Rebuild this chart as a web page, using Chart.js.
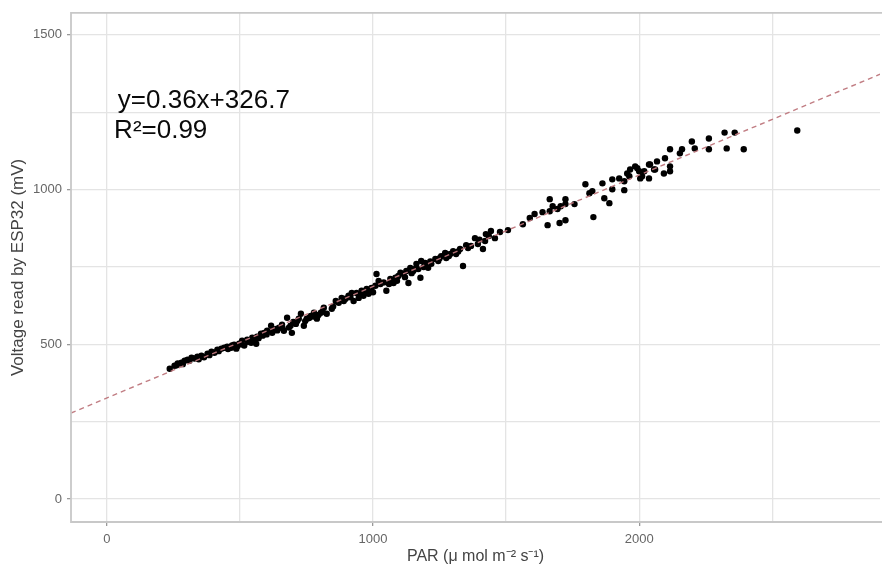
<!DOCTYPE html>
<html><head><meta charset="utf-8">
<script src="https://cdn.jsdelivr.net/npm/chart.js@4/dist/chart.umd.min.js"></script>
<style>html,body{margin:0;padding:0;background:#fff}#wrap{width:884px;height:574px;position:relative}</style>
</head><body><div id="wrap"><canvas id="c" width="884" height="574"></canvas></div>
<script>
// PAR values (µmol m-2 s-1)
const parValues = [
 236,254,266,280,292,303,318,329,340,355,378,393,404,415,430,441,452,467,478,486,497,508,516,527,542,546,561,564,579,591,602,617,621,636,647,658,665,677,684,695,710,721,729,740,751,766,778,789,804,815,826,845,
 262,285,310,345,365,385,420,455,470,490,505,530,555,570,585,600,625,640,660,690,700,715,745,760,775,795,810,
 860,871,882,897,908,920,927,938,946,957,964,976,983,994,1009,1013,1021,1028,1050,1065,1077,1084,1095,1103,1114,1125,1133,1140,1151,1163,1170,1178,1181,1196,1207,1219,1234,1245,1256,1271,1275,1290,1301,1312,1327,1338,1357,1368,1383,1394,1413,1421,1424,1443,1458,
 850,890,915,950,970,990,1000,1040,1060,1090,1120,1145,1160,1190,1215,1250,1285,1320,1350,1400,1435,
 1477,1507,1563,1589,1607,1637,1664,1664,1675,1693,1705,1723,1723,1757,1656,1701,1723,1798,1813,1824,1828,1862,1869,1888,1899,1899,1925,1944,1944,1955,1963,1966,1985,2000,2011,2041,2056,
 1993,2004,2037,2019,2037,2067,2060,2093,2116,2116,2097,2116,2153,2161,2198,2209,2262,2262,2321,2359,2329,2393,2594
];
// Voltage read by ESP32 (mV)
const voltageValues = [
 421,431,438,441,447,450,457,454,460,463,470,476,473,483,486,489,492,489,499,486,502,512,496,515,505,521,502,525,534,537,544,560,537,550,554,563,544,586,554,537,566,583,599,560,583,592,602,583,602,618,599,615,
 432,436,447,452,458,465,478,485,496,494,500,508,514,520,528,532,545,545,552,560,572,575,575,585,590,595,605,
 640,634,650,647,657,666,640,666,650,673,657,679,663,682,689,727,705,695,673,711,698,715,721,731,727,737,698,747,737,760,743,715,769,763,747,760,776,769,785,795,779,792,801,792,808,753,811,818,843,824,808,834,856,866,843,
 622,640,652,660,668,675,668,700,695,705,717,730,745,750,768,778,785,800,820,838,850,
 863,869,888,908,921,927,969,930,946,937,946,969,953,953,885,892,901,1017,988,995,911,1020,972,956,1033,1001,1036,1027,998,1052,1043,1065,1075,1059,1043,1081,1065,
 1069,1036,1036,1059,1081,1091,1065,1052,1059,1075,1101,1130,1117,1130,1155,1133,1165,1130,1184,1184,1133,1130,1191
];
const fitSlope = 0.36;
const fitIntercept = 326.7;
const xGridValues = [0,500,1000,1500,2000,2500];
const xTickLabels = [0,1000,2000];
const yGridValues = [0,250,500,750,1000,1250,1500];
const yTickLabels = [0,500,1000,1500];
const xLimits = [-135, 2905];
const yLimits = [-74, 1571];
const equationLines = ['y=0.36x+326.7', 'R\u00B2=0.99'];

const points = parValues.map((x,i)=>({x:x, y:voltageValues[i]}));
const fitLine = xLimits.map(x=>({x:x, y:fitSlope*x+fitIntercept}));

const framePlugin = {
  id:'frame',
  afterDatasetsDraw(chart){
    const {ctx, chartArea:a} = chart;
    ctx.save();
    ctx.strokeStyle = '#c8c8c8';
    ctx.lineWidth = 1.8;
    ctx.beginPath();
    ctx.moveTo(a.right+2, a.top); ctx.lineTo(a.left, a.top); ctx.lineTo(a.left, a.bottom); ctx.lineTo(a.right+2, a.bottom);
    ctx.stroke();
    // equation text
    const xs = chart.scales.x, ys = chart.scales.y;
    ctx.fillStyle = '#0a0a0a';
    ctx.font = '26px "Liberation Sans", Arial, sans-serif';
    ctx.textBaseline = 'alphabetic';
    ctx.textAlign = 'left';
    ctx.fillText(equationLines[0], xs.getPixelForValue(41), ys.getPixelForValue(1262));
    ctx.fillText(equationLines[1], xs.getPixelForValue(27), ys.getPixelForValue(1166));
    ctx.restore();
  }
};

const gridColor = '#e4e4e4';
new Chart(document.getElementById('c'), {
  type:'scatter',
  data:{datasets:[
    {type:'line', data:fitLine, borderColor:'rgba(190,118,124,0.95)', borderWidth:1.4, borderDash:[5,4], pointRadius:0, fill:false, tension:0},
    {data:points, backgroundColor:'#000', borderColor:'#000', pointRadius:3.2, pointBorderWidth:0}
  ]},
  options:{
    responsive:false, animation:false, devicePixelRatio:1,
    layout:{padding:{top:11,right:0,bottom:0,left:0}},
    plugins:{legend:{display:false}, tooltip:{enabled:false}},
    scales:{
      x:{type:'linear', min:xLimits[0], max:xLimits[1],
        afterBuildTicks:s=>{s.ticks = xGridValues.map(v=>({value:v}));},
        afterFit:s=>{s.height = 52;},
        border:{display:false},
        grid:{color:gridColor, lineWidth:1.3, tickLength:4, tickColor:c=>xTickLabels.includes(c.tick.value)?'#999':'rgba(0,0,0,0)'},
        ticks:{autoSkip:false, maxRotation:0, padding:6, color:'#666', font:{family:'"Liberation Sans", Arial, sans-serif', size:13},
          callback:v=>xTickLabels.includes(v)?String(v):''},
        title:{display:true, text:'PAR (\u03BC mol m\u207B\u00B2 s\u207B\u00B9)', color:'#444', font:{family:'"Liberation Sans", Arial, sans-serif', size:16}, padding:{top:0,bottom:8}}
      },
      y:{type:'linear', min:yLimits[0], max:yLimits[1],
        afterBuildTicks:s=>{s.ticks = yGridValues.map(v=>({value:v}));},
        afterFit:s=>{s.width = 71;},
        border:{display:false},
        grid:{color:gridColor, lineWidth:1.3, tickLength:4, tickColor:c=>yTickLabels.includes(c.tick.value)?'#999':'rgba(0,0,0,0)'},
        ticks:{autoSkip:false, padding:5, color:'#666', font:{family:'"Liberation Sans", Arial, sans-serif', size:13},
          callback:v=>yTickLabels.includes(v)?String(v):''},
        title:{display:true, text:'Voltage read by ESP32 (mV)', color:'#444', font:{family:'"Liberation Sans", Arial, sans-serif', size:17}, padding:{top:8,bottom:0}}
      }
    }
  },
  plugins:[framePlugin]
});
</script></body></html>
